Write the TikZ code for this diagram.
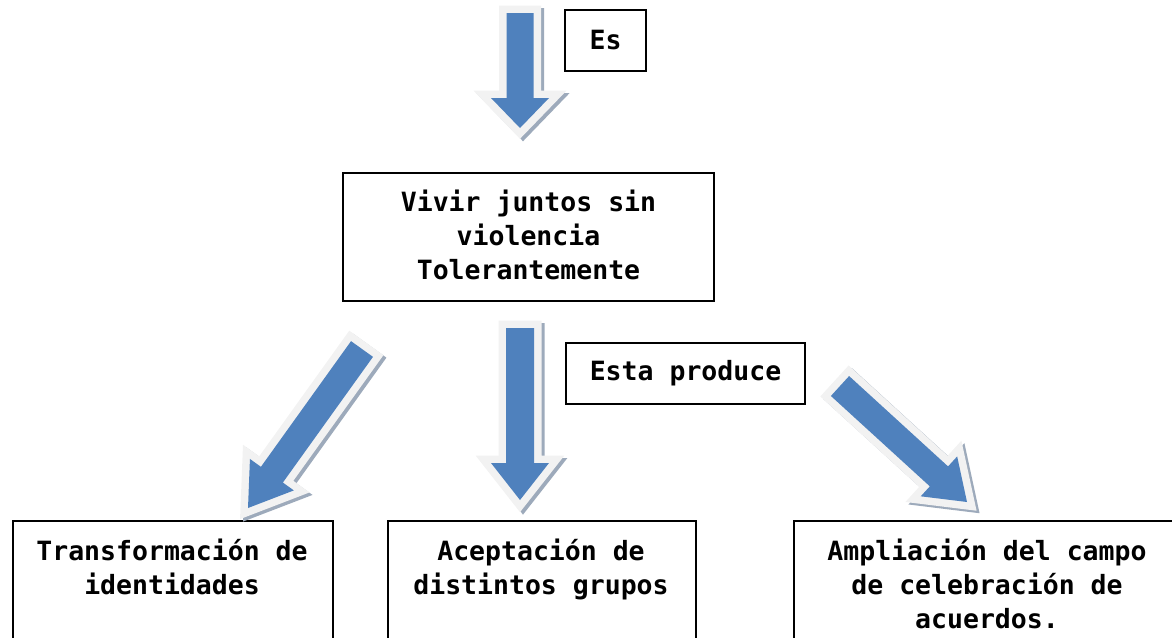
\documentclass[tikz,border=0pt]{standalone}
\usepackage{fontspec}
\newfontfamily\dvm{DejaVu Sans Mono}
\usetikzlibrary{calc}
\definecolor{arrblue}{HTML}{4F81BD}
\definecolor{arrrimc}{HTML}{F2F2F2}
\definecolor{arrshade}{HTML}{9DAABB}
\tikzset{
  boxstyle/.style={draw=black, line width=1.5pt, inner sep=0pt},
  txt/.style={font=\dvm\bfseries\fontsize{26.5}{34}\selectfont, align=center, inner sep=0pt},
  arrshadow/.style={transform canvas={shift={(3pt,-2.5pt)}}, draw=arrshade, fill=arrshade, line width=15pt, line join=miter},
  arrrim/.style={draw=arrrimc, line width=15pt, line join=miter},
  arrbody/.style={fill=arrblue},
}
\newcommand\blockarrow[5]{%
  \coordinate (hb) at ($(#2)!#5!(#1)$);
  \coordinate (p1) at ($(#1)!#3!90:(#2)$);
  \coordinate (p2) at ($(hb)!#3!90:(#2)$);
  \coordinate (p3) at ($(hb)!#4!90:(#2)$);
  \coordinate (p4) at ($(hb)!#4!-90:(#2)$);
  \coordinate (p5) at ($(hb)!#3!-90:(#2)$);
  \coordinate (p6) at ($(#1)!#3!-90:(#2)$);
  \path[arrshadow] (p1) -- (p2) -- (p3) -- (#2) -- (p4) -- (p5) -- (p6) -- cycle;
  \path[arrrim] (p1) -- (p2) -- (p3) -- (#2) -- (p4) -- (p5) -- (p6) -- cycle;
  \path[arrbody] (p1) -- (p2) -- (p3) -- (#2) -- (p4) -- (p5) -- (p6) -- cycle;
}
\begin{document}
\begin{tikzpicture}[x=1pt, y=-1pt]
\useasboundingbox (0,0) rectangle (1172,637);
\clip (0,0) rectangle (1172,637);

% boxes
\node[boxstyle, txt, minimum width=81pt, minimum height=61pt] (es) at (605.5,40.5) {Es};
\node[boxstyle, minimum width=371pt, minimum height=128pt] (vivir) at (528.5,237) {};
\node[txt, anchor=north] (vivirtxt) at (528.5,189.5) {Vivir juntos sin\\violencia\\Tolerantemente};
\node[boxstyle, txt, minimum width=239pt, minimum height=61pt] (esta) at (685.5,373.5) {Esta produce};

\node[boxstyle, anchor=north west, minimum width=320pt, minimum height=140pt] (b1) at (12,520) {};
\node[txt, anchor=north] (t1) at (172,539) {Transformación de\\identidades};
\node[boxstyle, anchor=north west, minimum width=308pt, minimum height=140pt] (b2) at (387,520) {};
\node[txt, anchor=north] (t2) at (541,539) {Aceptación de\\distintos grupos};
\node[boxstyle, anchor=north west, minimum width=388pt, minimum height=140pt] (b3) at (793,520) {};
\node[txt, anchor=north] (t3) at (987,539) {Ampliación del campo\\de celebración de\\acuerdos.};

% arrows
\coordinate (topA) at (520,13);
\coordinate (topB) at (520,128);
\blockarrow{topA}{topB}{13.5pt}{29pt}{30pt}
\coordinate (midA) at (520,328);
\coordinate (midB) at (520,500);
\blockarrow{midA}{midB}{14pt}{29pt}{37pt}
\coordinate (leftA) at (362,349);
\coordinate (leftB) at (248,508);
\blockarrow{leftA}{leftB}{13.5pt}{27pt}{41pt}
\coordinate (rightA) at (840,386);
\coordinate (rightB) at (967,502);
\blockarrow{rightA}{rightB}{13.5pt}{27pt}{38pt}
\end{tikzpicture}
\end{document}
